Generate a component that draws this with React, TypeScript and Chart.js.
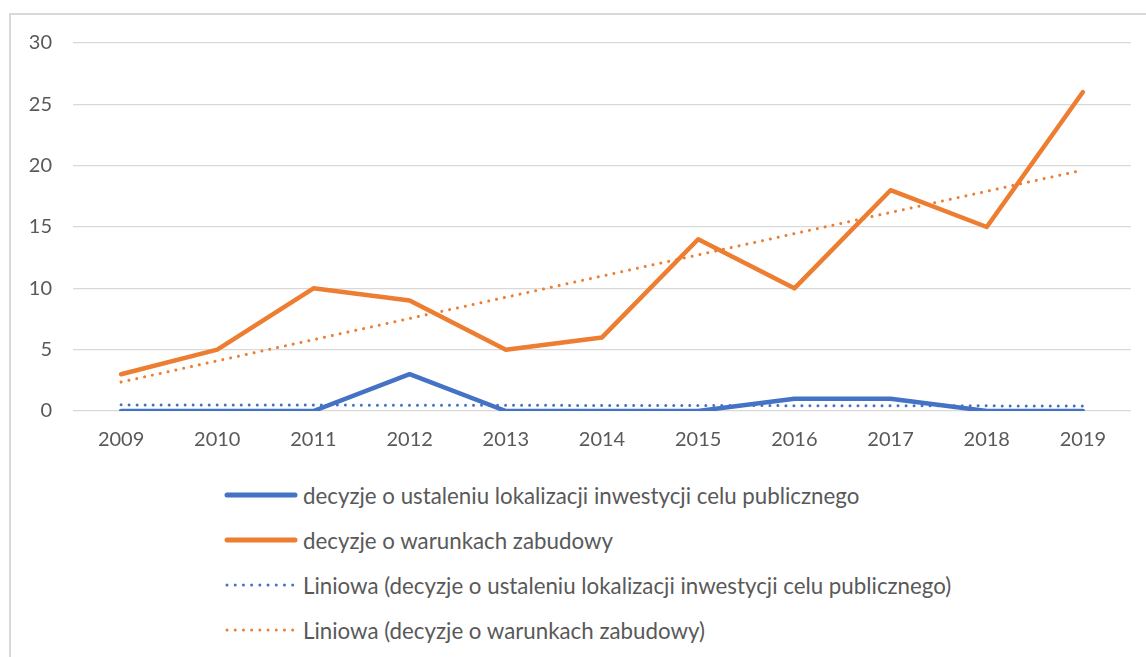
import React, { useEffect, useRef } from "react";
import { Chart, registerables } from "chart.js";

Chart.register(...registerables);

const years = ["2009", "2010", "2011", "2012", "2013", "2014", "2015", "2016", "2017", "2018", "2019"];
const lokalizacja = [0, 0, 0, 3, 0, 0, 0, 1, 1, 0, 0];
const warunki = [3, 5, 10, 9, 5, 6, 14, 10, 18, 15, 26];
// linear trend values read at the first and last year
const trendLokalizacja = [0.5, 0.41];
const trendWarunki = [2.36, 19.64];
const yTicks = [0, 5, 10, 15, 20, 25, 30];

const labelsText = [
  "decyzje o ustaleniu lokalizacji inwestycji celu publicznego",
  "decyzje o warunkach zabudowy",
  "Liniowa (decyzje o ustaleniu lokalizacji inwestycji celu publicznego)",
  "Liniowa (decyzje o warunkach zabudowy)",
];

const BLUE = "#4472C4";
const ORANGE = "#ED7D31";
const TEXT = "#595959";
const GRID = "#D9D9D9";
const FONT = "Lato, 'Open Sans', sans-serif";

function trendSeries(ends: number[]) {
  return years.map((_, i) => (i === 0 ? ends[0] : i === years.length - 1 ? ends[1] : null));
}

export default function App() {
  const ref = useRef<HTMLCanvasElement | null>(null);
  useEffect(() => {
    if (!ref.current) return;
    const chart = new Chart(ref.current, {
      type: "line",
      data: {
        labels: years,
        datasets: [
          {
            label: labelsText[2],
            data: trendSeries(trendLokalizacja),
            borderColor: BLUE,
            borderWidth: 3,
            borderDash: [0.01, 8],
            borderCapStyle: "round",
            pointRadius: 0,
            spanGaps: true,
            order: 0,
          },
          {
            label: labelsText[3],
            data: trendSeries(trendWarunki),
            borderColor: ORANGE,
            borderWidth: 3,
            borderDash: [0.01, 8],
            borderCapStyle: "round",
            pointRadius: 0,
            spanGaps: true,
            order: 0,
          },
          {
            label: labelsText[0],
            data: lokalizacja,
            borderColor: BLUE,
            borderWidth: 4.5,
            borderCapStyle: "round",
            borderJoinStyle: "round",
            pointRadius: 0,
            order: 1,
          },
          {
            label: labelsText[1],
            data: warunki,
            borderColor: ORANGE,
            borderWidth: 4.5,
            borderCapStyle: "round",
            borderJoinStyle: "round",
            pointRadius: 0,
            order: 2,
          },
        ],
      },
      options: {
        animation: false,
        responsive: false,
        maintainAspectRatio: false,
        layout: { padding: { left: 0, right: 15, top: 43, bottom: 0 } },
        plugins: { legend: { display: false }, tooltip: { enabled: false } },
        scales: {
          x: {
            offset: true,
            grid: { display: false, drawTicks: false },
            border: { display: false },
            ticks: { color: TEXT, font: { family: FONT, size: 20 }, padding: 17, maxRotation: 0 },
            afterFit: (s: any) => {
              s.height = 59;
            },
          },
          y: {
            min: 0,
            max: 30,
            afterBuildTicks: (s: any) => {
              s.ticks = yTicks.map((v) => ({ value: v }));
            },
            grid: { color: GRID, lineWidth: 1.3, drawTicks: false },
            border: { display: false },
            ticks: { color: TEXT, font: { family: FONT, size: 20 }, padding: 21 },
            afterFit: (s: any) => {
              s.width = 73;
              s.paddingTop = 0;
              s.paddingBottom = 0;
            },
          },
        },
      },
    });
    return () => chart.destroy();
  }, []);

  const legendRows = [
    { color: BLUE, dotted: false },
    { color: ORANGE, dotted: false },
    { color: BLUE, dotted: true },
    { color: ORANGE, dotted: true },
  ];

  return (
    <div style={{ position: "absolute", left: 0, top: 0, width: 1146, height: 657, overflow: "hidden", background: "#fff" }}>
      <div
        style={{
          position: "absolute",
          left: 9,
          top: 13,
          width: 1200,
          height: 700,
          borderLeft: "2px solid #D9D9D9",
          borderTop: "2px solid #D9D9D9",
        }}
      />
      <canvas ref={ref} width={1146} height={470} style={{ position: "absolute", left: 0, top: 0, width: 1146, height: 470 }} />
      {legendRows.map((r, i) => (
        <div
          key={i}
          style={{
            position: "absolute",
            left: 222,
            top: 495 + i * 45 - 15,
            height: 30,
            display: "flex",
            alignItems: "center",
            fontFamily: FONT,
            fontSize: 22.3,
            color: TEXT,
            whiteSpace: "nowrap",
          }}
        >
          <svg width={81} height={30} style={{ display: "block" }}>
            {r.dotted ? (
              <line x1={5} y1={15} x2={71} y2={15} stroke={r.color} strokeWidth={3} strokeDasharray="0.01 8.2" strokeLinecap="round" />
            ) : (
              <line x1={5} y1={15} x2={73} y2={15} stroke={r.color} strokeWidth={5} strokeLinecap="round" />
            )}
          </svg>
          <span>{labelsText[i]}</span>
        </div>
      ))}
    </div>
  );
}
